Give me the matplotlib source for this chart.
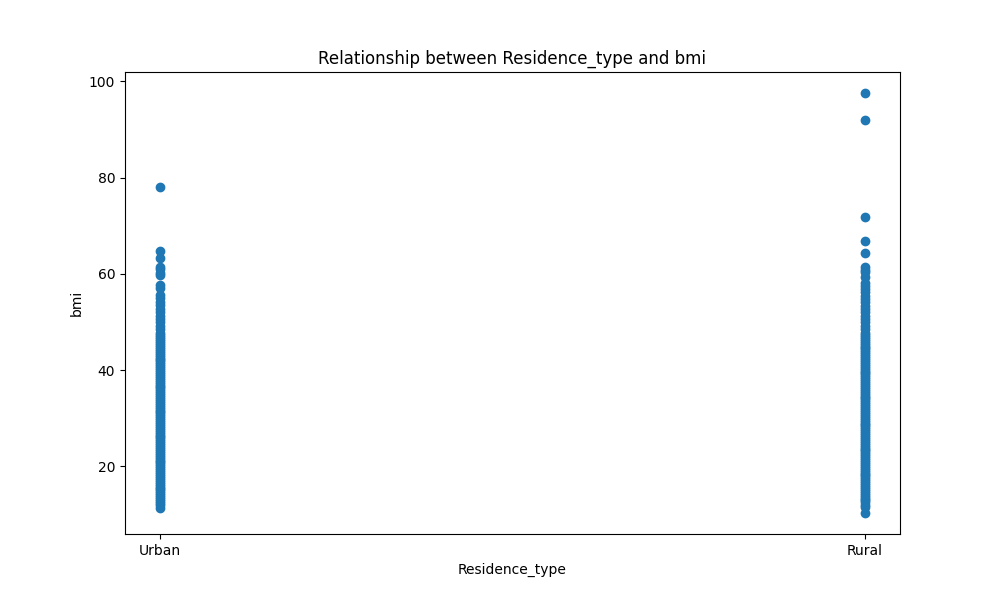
import matplotlib
matplotlib.use('Agg')
import matplotlib.pyplot as plt

# bmi values, per residence type
urban_bmi = [11.3, 11.9, 12.4, 12.8, 13.2, 13.6, 14.0, 14.4, 14.8, 15.2, 15.6, 16.0,
             16.4, 16.8, 17.2, 17.6, 18.0, 18.4, 18.8, 19.2, 19.6, 20.0, 20.4, 20.8,
             21.2, 21.6, 22.0, 22.4, 22.8, 23.2, 23.6, 24.0, 24.4, 24.8, 25.2, 25.6,
             26.0, 26.4, 26.8, 27.2, 27.6, 28.0, 28.4, 28.8, 29.2, 29.6, 30.0, 30.4,
             30.8, 31.2, 31.6, 32.0, 32.4, 32.8, 33.2, 33.6, 34.0, 34.4, 34.8, 35.2,
             35.6, 36.0, 36.4, 36.8, 37.2, 37.6, 38.0, 38.4, 38.8, 39.2, 39.6, 40.0,
             40.4, 40.8, 41.2, 41.6, 42.0, 42.4, 42.8, 43.2, 43.6, 44.0, 44.4, 44.8,
             45.2, 45.6, 46.0, 46.4, 46.8, 47.2, 47.8, 48.5, 49.2, 49.9, 50.6, 51.3,
             52.0, 52.8, 53.5, 54.2, 55.0, 55.7, 57.1, 57.7, 59.7, 60.2, 61.0, 61.5,
             63.3, 64.8, 78.0]
rural_bmi = [10.3, 11.5, 12.0, 12.5, 12.9, 13.3, 13.7, 14.1, 14.5, 14.9, 15.3, 15.7,
             16.1, 16.5, 16.9, 17.3, 17.7, 18.1, 18.5, 18.9, 19.3, 19.7, 20.1, 20.5,
             20.9, 21.3, 21.7, 22.1, 22.5, 22.9, 23.3, 23.7, 24.1, 24.5, 24.9, 25.3,
             25.7, 26.1, 26.5, 26.9, 27.3, 27.7, 28.1, 28.5, 28.9, 29.3, 29.7, 30.1,
             30.5, 30.9, 31.3, 31.7, 32.1, 32.5, 32.9, 33.3, 33.7, 34.1, 34.5, 34.9,
             35.3, 35.7, 36.1, 36.5, 36.9, 37.3, 37.7, 38.1, 38.5, 38.9, 39.3, 39.7,
             40.1, 40.5, 40.9, 41.3, 41.7, 42.1, 42.5, 42.9, 43.3, 43.7, 44.1, 44.5,
             44.9, 45.3, 45.7, 46.1, 46.5, 46.9, 47.3, 47.8, 48.5, 49.2, 49.9, 50.6,
             51.3, 52.0, 52.7, 53.4, 54.1, 54.8, 55.5, 56.2, 56.9, 57.5, 58.1, 59.4,
             60.3, 60.8, 61.5, 64.4, 66.8, 71.9, 92.0, 97.6]

fig = plt.figure(figsize=(10, 6), dpi=100)
plt.scatter(['Urban'] * len(urban_bmi), urban_bmi, color='tab:blue')
plt.scatter(['Rural'] * len(rural_bmi), rural_bmi, color='tab:blue')
plt.title('Relationship between Residence_type and bmi')
plt.xlabel('Residence_type')
plt.ylabel('bmi')
plt.savefig('out.png')
